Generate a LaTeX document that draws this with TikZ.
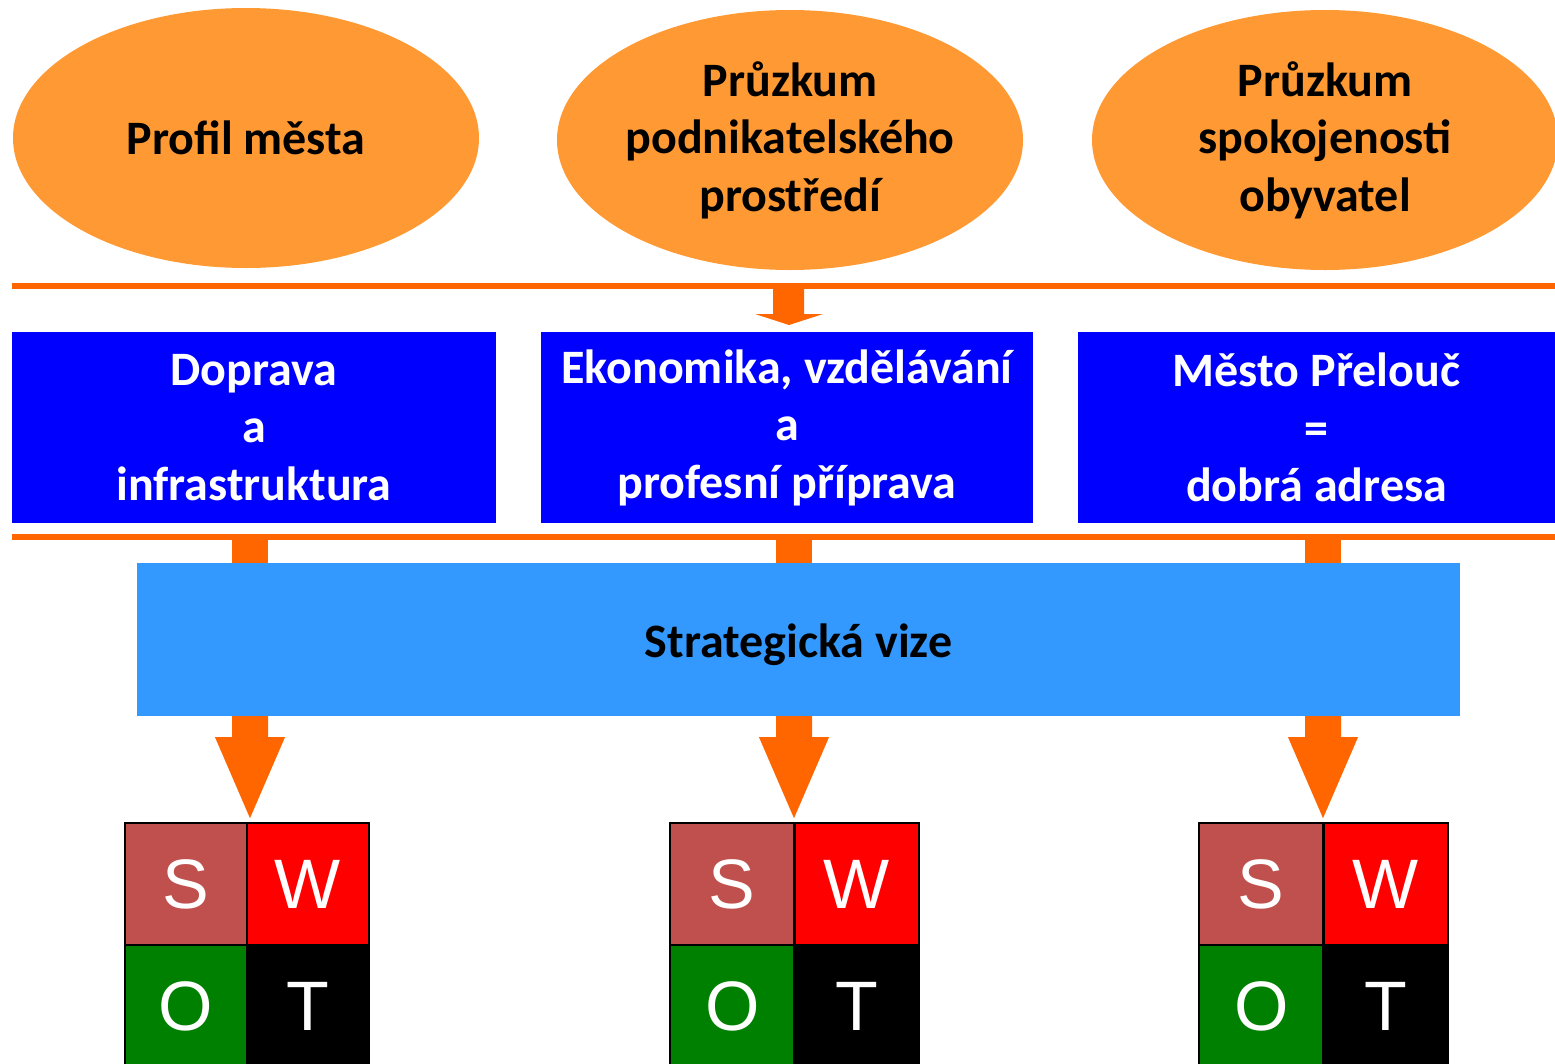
\documentclass[tikz,border=0pt]{standalone}
\usepackage{fontspec}
\setmainfont{Carlito}
\newfontfamily\swotfont{Liberation Sans}
\usetikzlibrary{shapes.geometric}
\definecolor{ellor}{RGB}{255,153,51}
\definecolor{lineor}{RGB}{255,102,0}
\definecolor{boxblue}{RGB}{0,0,255}
\definecolor{lightblue}{RGB}{51,153,255}
\definecolor{sred}{RGB}{192,80,77}
\definecolor{wred}{RGB}{255,0,0}
\definecolor{ogreen}{RGB}{0,128,0}
\begin{document}
\begin{tikzpicture}[x=1pt,y=-1pt,
  ell/.style={ellipse, fill=ellor, minimum width=466pt, minimum height=260pt, inner sep=0pt, align=center, font=\fontsize{48}{57.5}\selectfont\bfseries},
  bluebox/.style={rectangle, fill=boxblue, minimum height=191pt, inner sep=0pt, align=center, text=white, font=\fontsize{48}{57.5}\selectfont\bfseries},
  visionbox/.style={rectangle, fill=lightblue, minimum width=1323pt, minimum height=153pt, inner sep=0pt, font=\fontsize{48}{57}\selectfont\bfseries},
  sepline/.style={draw=lineor, line width=6pt},
  cell/.style={rectangle, draw=black, line width=2.5pt, minimum height=122pt, inner sep=0pt, outer sep=0pt, text=white, font=\swotfont\fontsize{70}{70}\selectfont},
  blockarrow/.style={fill=lineor}
]
\useasboundingbox (0,0) rectangle (1555,1063);
\clip (0,0) rectangle (1555,1063);

% ellipses
\node[ell] (e1) at (246,138) {Profil města};
\node[ell] (e2) at (790,140) {Průzkum\\podnikatelského\\prostředí};
\node[ell] (e3) at (1325,140) {Průzkum\\spokojenosti\\obyvatel};

% separator lines
\coordinate (l1a) at (12,286);
\coordinate (l1b) at (1555,286);
\coordinate (l2a) at (12,537);
\coordinate (l2b) at (1555,537);
\draw[sepline] (l1a) -- (l1b);
\draw[sepline] (l2a) -- (l2b);

% blue boxes
\node[bluebox, minimum width=484pt] (b1) at (254,427.5) {Doprava\\a\\infrastruktura};
\node[bluebox, minimum width=492pt] (b2) at (787,427.5) {Ekonomika, vzdělávání\\a\\profesní příprava};
\node[bluebox, minimum width=477pt] (b3) at (1316.5,427.5) {Město Přelouč\\=\\dobrá adresa};

% small arrow between line 1 and blue boxes
\fill[blockarrow] (773,289) -- (804,289) -- (804,314) -- (823,314) -- (789,325) -- (755,314) -- (773,314) -- cycle;

% strategic vision
\node[visionbox] (sv) at (798.5,639.5) {\raisebox{-5pt}[\height][\depth]{Strategická vize}};

% column coordinates
\coordinate (c1) at (250,0);
\coordinate (c2) at (794,0);
\coordinate (c3) at (1323,0);

% shafts from line 2 to vision box
\foreach \c in {c1,c2,c3}{
  \fill[blockarrow] ([xshift=-18pt]\c |- l2a) rectangle ([xshift=18pt]\c |- sv.north);
}

% SWOT grids
\foreach \n/\x/\w in {1/125/122,2/670/124.5,3/1199/124.5}{
  \node[cell, minimum width=\w pt, fill=sred, anchor=north west] (s\n) at (\x,823) {S};
  \node[cell, minimum width=\w pt, fill=wred, anchor=north west] (w\n) at (s\n.north east) {W};
  \node[cell, minimum width=\w pt, fill=ogreen, anchor=north west] (o\n) at (s\n.south west) {O};
  \node[cell, minimum width=\w pt, fill=black, anchor=north west] (t\n) at (s\n.south east) {T};
}

% big arrows from vision box to SWOT grids
\foreach \c/\n in {c1/1,c2/2,c3/3}{
  \fill[blockarrow] ([xshift=-18pt]\c |- sv.south) -- ++(36,0) -- ++(0,21) -- ++(17,0) -- ++(-35,81) -- ++(-35,-81) -- ++(17,0) -- cycle;
}
\end{tikzpicture}
\end{document}
